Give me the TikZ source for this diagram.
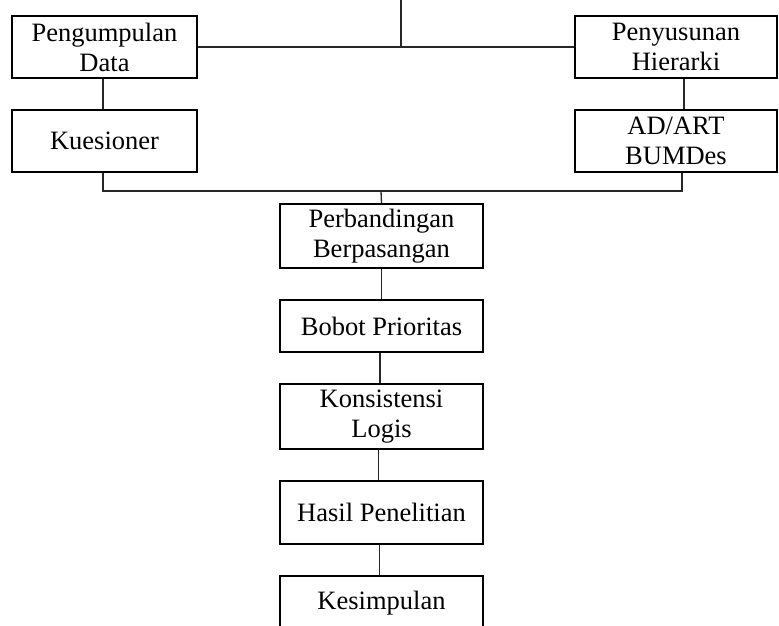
\documentclass[tikz,border=0pt]{standalone}
\usepackage{fontspec}
\setmainfont{Liberation Serif}
\usetikzlibrary{calc}
\begin{document}
\begin{tikzpicture}[x=1pt,y=-1pt,
  box/.style={draw, line width=2pt, rectangle, inner sep=0pt, align=center,
    font=\fontsize{26.5pt}{30pt}\selectfont},
  link/.style={draw=black!85, line width=1.3pt}]
\clip (0,0) rectangle (779,625);
\fill[white] (0,0) rectangle (779,625);
\node[box, minimum width=185pt, minimum height=62pt] (pd) at (104.5,47) {Pengumpulan\\Data};
\node[box, minimum width=185pt, minimum height=62pt] (kue) at (104.5,141) {Kuesioner};
\node[box, minimum width=202pt, minimum height=62pt] (ph) at (676,47) {Penyusunan\\Hierarki};
\node[box, minimum width=202pt, minimum height=62pt] (ad) at (676,141) {AD/ART\\BUMDes};
\node[box, minimum width=203pt, minimum height=64pt] (pb) at (381.5,236) {Perbandingan\\Berpasangan};
\node[box, minimum width=203pt, minimum height=52pt] (bp) at (381.5,326) {Bobot Prioritas};
\node[box, minimum width=203pt, minimum height=65pt] (kl) at (381.5,416.5) {Konsistensi\\Logis};
\node[box, minimum width=203pt, minimum height=63pt] (hp) at (381.5,512.5) {Hasil Penelitian};
\node[box, minimum width=203pt, minimum height=54pt] (ks) at (381.5,603) {Kesimpulan};
\coordinate (top) at (401,0);
\coordinate (j1) at (401,47);
\coordinate (bus) at (381,191);
\draw[link] (pd.east) -- (ph.west);
\draw[link] (top) -- (j1);
\draw[link] ([xshift=-1.5pt]pd.south) -- ([xshift=-1.5pt]kue.north);
\draw[link] ([xshift=8pt]ph.south) -- ([xshift=8pt]ad.north);
\draw[link] ([xshift=-1.5pt]kue.south) |- (bus) -| ([xshift=6pt]ad.south);
\draw[link] (bus) -- (pb.north);
\draw[link] (pb.south) -- (bp.north);
\draw[link] ([xshift=-1.5pt]bp.south) -- ([xshift=-1.5pt]kl.north);
\draw[link] ([xshift=-3pt]kl.south) -- ([xshift=-3pt]hp.north);
\draw[link] ([xshift=-2pt]hp.south) -- ([xshift=-2pt]ks.north);
\end{tikzpicture}
\end{document}
